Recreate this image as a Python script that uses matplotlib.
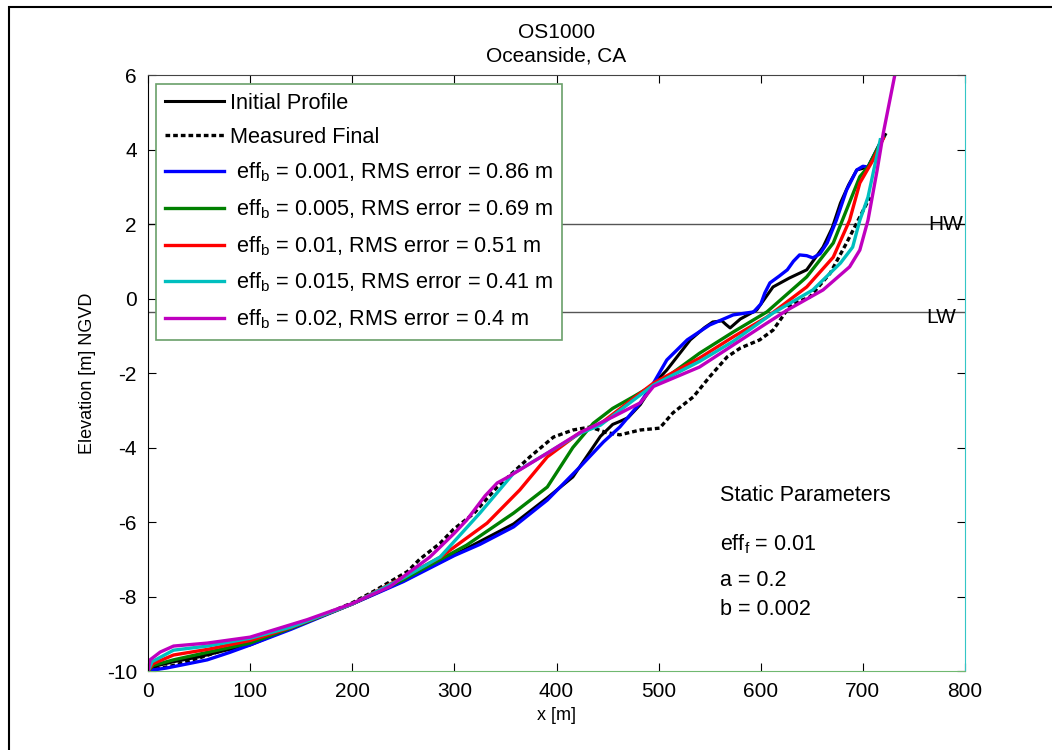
import matplotlib
matplotlib.use("Agg")
import matplotlib.pyplot as plt
from matplotlib.patches import Rectangle

plt.rcParams['font.family'] = ['Liberation Sans', 'DejaVu Sans']
plt.rcParams['mathtext.fontset'] = 'custom'
plt.rcParams['mathtext.rm'] = 'Liberation Sans'
plt.rcParams['mathtext.it'] = 'Liberation Sans'
plt.rcParams['axes.unicode_minus'] = False

# profiles (x in m, elevation in m NGVD)
x_init = [0, 10, 25, 50, 75, 100, 140, 200, 250, 300, 358, 391, 416, 443, 455, 462, 470, 482, 495,
          508, 531, 545, 553, 562, 566, 570, 580, 596, 612, 628, 645, 661, 670, 678, 686, 694, 705, 722]
y_init = [-10, -9.85, -9.75, -9.62, -9.45, -9.3, -8.85, -8.2, -7.58, -6.88, -6.05, -5.35, -4.79, -3.7,
          -3.38, -3.3, -3.2, -2.85, -2.3, -1.92, -1.11, -0.78, -0.63, -0.6, -0.7, -0.79, -0.55, -0.31,
          0.31, 0.55, 0.77, 1.38, 1.9, 2.56, 3.05, 3.45, 3.53, 4.4]

x_meas = [0, 25, 50, 100, 140, 200, 221, 254, 266, 286, 299, 319, 342, 374, 397, 416, 433, 449, 462,
          482, 501, 514, 534, 550, 567, 580, 599, 612, 621, 629, 648, 668, 684, 697, 707]
y_meas = [-10, -9.85, -9.65, -9.2, -8.85, -8.17, -7.86, -7.33, -7.0, -6.57, -6.2, -5.77, -5.06, -4.25,
          -3.72, -3.53, -3.45, -3.6, -3.66, -3.53, -3.48, -3.07, -2.64, -2.1, -1.57, -1.33, -1.11, -0.85,
          -0.5, -0.17, 0.04, 0.68, 1.49, 2.19, 2.72]

x_b001 = [0, 5, 18, 40, 58, 80, 100, 140, 200, 250, 300, 325, 358, 391, 423, 446, 462, 482, 495, 508,
          528, 550, 573, 593, 600, 604, 609, 618, 626, 632, 638, 645, 651, 658, 665, 674, 684, 694, 700,
          705, 720]
y_b001 = [-10, -9.97, -9.92, -9.8, -9.7, -9.5, -9.3, -8.88, -8.2, -7.6, -6.9, -6.6, -6.13, -5.41, -4.52,
          -3.85, -3.45, -2.8, -2.27, -1.65, -1.11, -0.71, -0.44, -0.36, -0.15, 0.15, 0.42, 0.6, 0.77,
          1.0, 1.17, 1.15, 1.09, 1.2, 1.49, 2.1, 2.91, 3.45, 3.55, 3.53, 4.34]

x_b005 = [0, 5, 25, 58, 100, 140, 200, 250, 300, 312, 358, 391, 416, 436, 455, 475, 508, 540, 573,
          606, 645, 671, 684, 697, 705, 720]
y_b005 = [-10, -9.85, -9.7, -9.5, -9.25, -8.85, -8.2, -7.55, -6.8, -6.62, -5.76, -5.06, -4.0, -3.35,
          -2.95, -2.64, -2.11, -1.47, -0.9, -0.36, 0.58, 1.49, 2.38, 3.27, 3.53, 4.34]

x_b01 = [0, 5, 25, 58, 100, 140, 200, 250, 286, 332, 364, 391, 423, 443, 495, 540, 573, 606, 645,
         671, 687, 697, 710, 720]
y_b01 = [-10, -9.8, -9.57, -9.42, -9.18, -8.83, -8.2, -7.48, -6.95, -6.03, -5.14, -4.25, -3.6, -3.36,
         -2.27, -1.6, -1.03, -0.5, 0.31, 1.11, 2.1, 3.1, 3.72, 4.3]

x_b015 = [0, 4, 25, 58, 100, 140, 200, 250, 286, 325, 358, 391, 423, 443, 495, 540, 573, 612, 651,
          678, 690, 697, 705, 717]
y_b015 = [-10, -9.75, -9.44, -9.33, -9.12, -8.82, -8.2, -7.5, -6.94, -5.76, -4.69, -4.15, -3.62, -3.4,
          -2.32, -1.69, -1.15, -0.39, 0.23, 0.95, 1.38, 2.1, 2.72, 4.26]

x_b02 = [0, 2, 12, 25, 58, 100, 156, 200, 237, 276, 300, 312, 330, 342, 352, 364, 391, 423, 455, 482,
         495, 540, 573, 606, 626, 661, 687, 697, 705, 714, 720, 732]
y_b02 = [-10, -9.7, -9.49, -9.33, -9.25, -9.09, -8.62, -8.19, -7.73, -6.94, -6.3, -5.95, -5.3, -4.95,
         -4.8, -4.6, -4.15, -3.6, -3.18, -2.8, -2.36, -1.84, -1.25, -0.66, -0.31, 0.23, 0.85, 1.3, 2.1,
         3.45, 4.44, 6.1]

labels = ['Initial Profile', 'Measured Final',
          r' eff$_{\mathrm{b}}$ = 0.001, RMS error = 0.86 m',
          r' eff$_{\mathrm{b}}$ = 0.005, RMS error = 0.69 m',
          r' eff$_{\mathrm{b}}$ = 0.01, RMS error = 0.51 m',
          r' eff$_{\mathrm{b}}$ = 0.015, RMS error = 0.41 m',
          r' eff$_{\mathrm{b}}$ = 0.02, RMS error = 0.4 m']

hw = 2.0
lw_level = -0.36

fig = plt.figure(figsize=(10.52, 7.5), dpi=100)
ax = fig.add_axes([0.1407, 0.1053, 0.7766, 0.7947])

ax.plot([0, 800], [hw, hw], color='#555555', lw=1, zorder=1)
ax.plot([0, 800], [lw_level, lw_level], color='#555555', lw=1, zorder=1)

ax.plot(x_init, y_init, '-k', lw=2.2, label=labels[0])
ax.plot(x_meas, y_meas, color='k', ls=(0, (1.4, 0.9)), lw=2.4, label=labels[1])
ax.plot(x_b001, y_b001, color='#0000ff', lw=2.4, label=labels[2])
ax.plot(x_b005, y_b005, color='#008000', lw=2.4, label=labels[3])
ax.plot(x_b01, y_b01, color='#ff0000', lw=2.4, label=labels[4])
ax.plot(x_b015, y_b015, color='#00bfbf', lw=2.4, label=labels[5])
ax.plot(x_b02, y_b02, color='#bf00bf', lw=2.4, label=labels[6])

ax.set_xlim(0, 800)
ax.set_ylim(-10, 6)
ax.set_xticks(range(0, 801, 100))
ax.set_yticks(range(-10, 7, 2))
ax.tick_params(direction='in', length=6, top=True, right=True, labelsize=15, pad=8)
ax.spines['right'].set_color('#33c6c6')
ax.spines['bottom'].set_color('#70b870')
ax.spines['top'].set_color('#444444')

ax.set_xlabel('x [m]', fontsize=13, labelpad=4)
ax.set_ylabel('Elevation [m] NGVD', fontsize=13, labelpad=8)
ax.set_title('OS1000\nOceanside, CA', fontsize=15, pad=10, linespacing=1.25)

ax.text(764, hw, 'HW', fontsize=15, va='center', ha='left')
ax.text(762, -0.5, 'LW', fontsize=15, va='center', ha='left')

ax.text(560, -5.3, 'Static Parameters', fontsize=15.5, va='center')
ax.text(560, -6.6, r'eff$_{\mathrm{f}}$ = 0.01', fontsize=15.5, va='center')
ax.text(560, -7.56, 'a = 0.2', fontsize=15.5, va='center')
ax.text(560, -8.34, 'b = 0.002', fontsize=15.5, va='center')

leg = ax.legend(loc='upper left', bbox_to_anchor=(0.0098, 0.985), borderaxespad=0,
                fontsize=15.7, handlelength=2.7, handletextpad=0.3, labelspacing=0.6,
                fancybox=False, framealpha=1, borderpad=0.4)
leg.get_frame().set_edgecolor('#6aa06a')
leg.get_frame().set_linewidth(1.2)

fig.add_artist(Rectangle((9 / 1052, -0.1), 1.2, 1.1 - 7 / 750, transform=fig.transFigure,
                         fill=False, lw=1.5, ec='k'))

fig.savefig('out.png', dpi=100)
